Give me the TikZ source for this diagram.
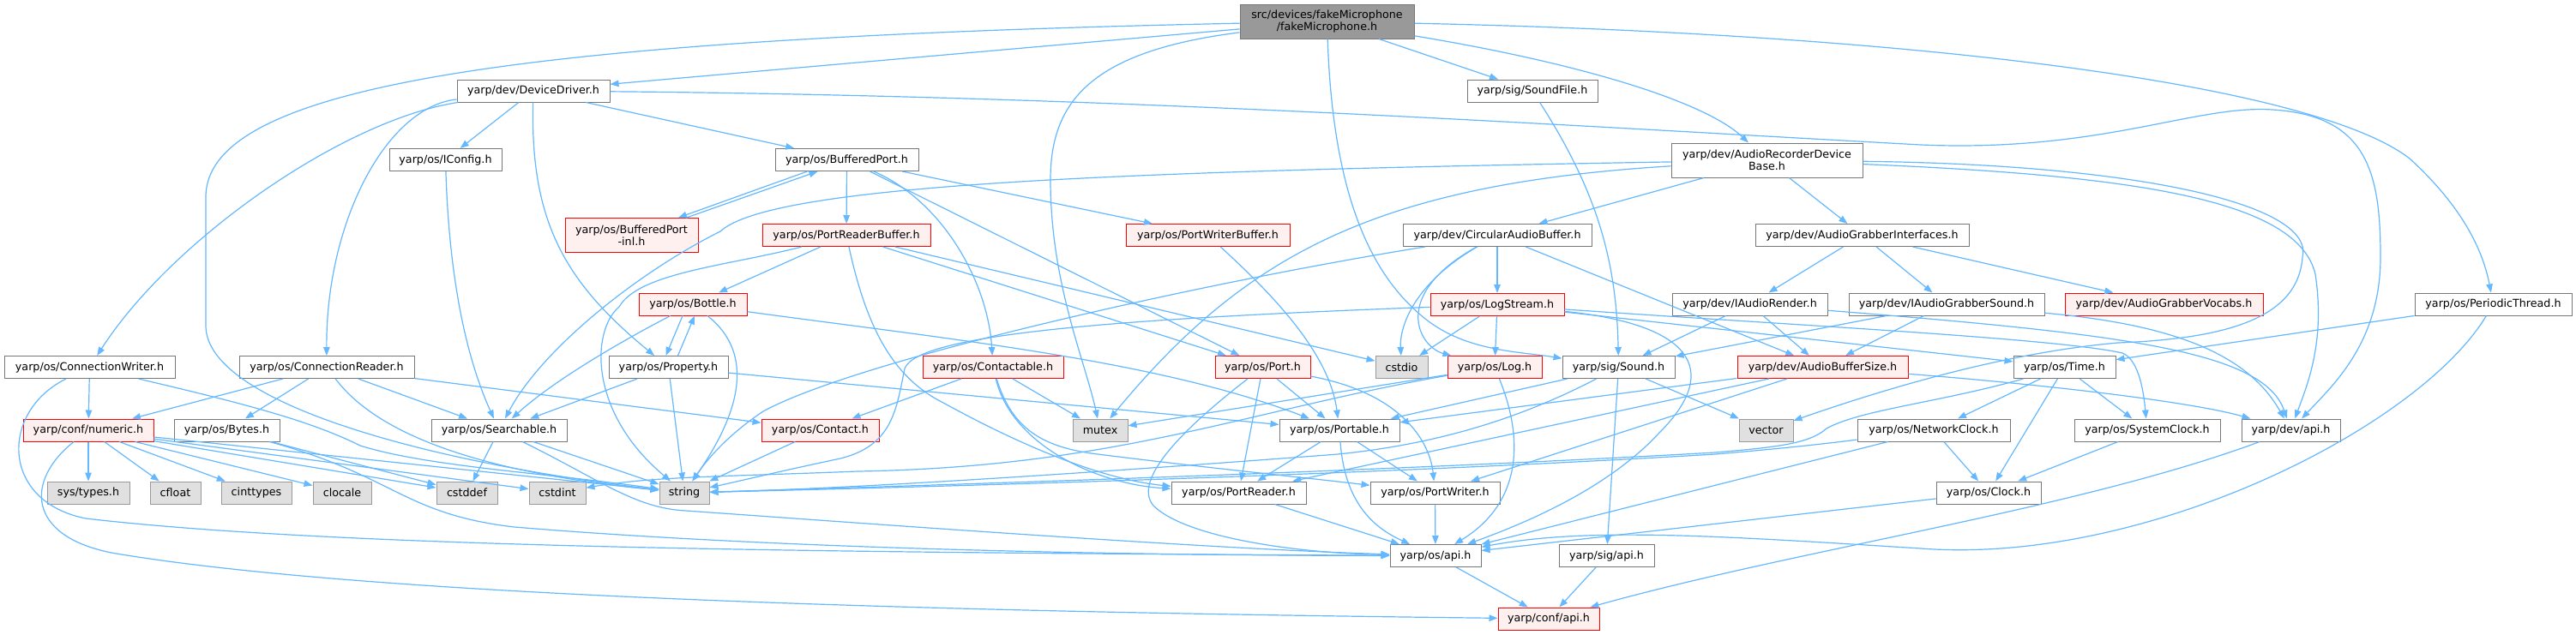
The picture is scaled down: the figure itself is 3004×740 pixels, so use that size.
\documentclass[tikz,border=0pt]{standalone}
\usepackage{fontspec}
\setmainfont{DejaVu Sans}
\usetikzlibrary{arrows.meta}
\definecolor{edgec}{HTML}{63B8FF}
\definecolor{nborder}{HTML}{777777}
\definecolor{gborder}{HTML}{999999}
\definecolor{gfill}{HTML}{E0E0E0}
\definecolor{rfill}{HTML}{FFF0F0}
\definecolor{rborder}{HTML}{FF0000}
\definecolor{rootfill}{HTML}{999999}
\newcommand{\mknode}[6]{\node[#1, minimum width=#5pt] (#2) at (#3,#4) {#6};}
\begin{document}
\begin{tikzpicture}[x=1pt,y=-1pt,
  box/.style={draw, line width=1pt, inner sep=0pt, minimum height=26pt, align=center, text=black,
    font=\fontsize{12.7pt}{14.5pt}\selectfont},
  two/.style={minimum height=40pt},
  nb/.style={box, draw=nborder, fill=white},
  nr/.style={box, draw=rborder, fill=rfill},
  ng/.style={box, draw=gborder, fill=gfill},
  nroot/.style={box, draw=nborder, fill=rootfill},
  dep/.style={draw=edgec, line width=1.2pt, -{Triangle[length=10pt,width=7.5pt]}}]
\fill[white] (0,0) rectangle (3004,740);
\useasboundingbox (0,0) rectangle (3004,740);

% ---------- nodes ----------
\mknode{nroot,two}{FM}{1547.5}{25}{203}{src/devices/fakeMicrophone\\/fakeMicrophone.h}
\mknode{nb}{DD}{622}{106}{178}{yarp/dev/DeviceDriver.h}
\mknode{nb}{SF}{1787}{106}{152}{yarp/sig/SoundFile.h}
\mknode{nb}{IConfig}{519.5}{186.5}{131}{yarp/os/IConfig.h}
\mknode{nb}{BP}{987.5}{186.5}{167}{yarp/os/BufferedPort.h}
\mknode{nb,two}{ARDB}{2060.5}{187}{223}{yarp/dev/AudioRecorderDevice\\Base.h}
\mknode{nr,two}{BPinl}{736.5}{274.5}{155}{yarp/os/BufferedPort\\-inl.h}
\mknode{nr}{PRB}{987}{274.5}{196}{yarp/os/PortReaderBuffer.h}
\mknode{nr}{PWB}{1408.5}{274.5}{191}{yarp/os/PortWriterBuffer.h}
\mknode{nb}{CAB}{1746}{274.5}{220}{yarp/dev/CircularAudioBuffer.h}
\mknode{nb}{AGI}{2171.5}{274.5}{249}{yarp/dev/AudioGrabberInterfaces.h}
\mknode{nr}{Bottle}{808}{355}{126}{yarp/os/Bottle.h}
\mknode{nr}{LogStream}{1746}{355.5}{156}{yarp/os/LogStream.h}
\mknode{nb}{IAR}{2040.5}{355}{181}{yarp/dev/IAudioRender.h}
\mknode{nb}{IAGS}{2270}{355}{228}{yarp/dev/IAudioGrabberSound.h}
\mknode{nr}{AGV}{2523.5}{355}{231}{yarp/dev/AudioGrabberVocabs.h}
\mknode{nb}{PT}{2907.5}{355}{183}{yarp/os/PeriodicThread.h}
\mknode{nb}{CW}{104.5}{428.5}{199}{yarp/os/ConnectionWriter.h}
\mknode{nb}{CR}{381}{428.5}{204}{yarp/os/ConnectionReader.h}
\mknode{nb}{Property}{779.5}{428.5}{139}{yarp/os/Property.h}
\mknode{nr}{Contactable}{1158}{428.5}{164}{yarp/os/Contactable.h}
\mknode{nr}{Port}{1472.5}{428.5}{111}{yarp/os/Port.h}
\mknode{ng}{cstdio}{1634.5}{428.5}{61}{cstdio}
\mknode{nr}{Log}{1743}{428.5}{110}{yarp/os/Log.h}
\mknode{nb}{Sound}{1887.5}{428.5}{131}{yarp/sig/Sound.h}
\mknode{nr}{ABS}{2125.5}{428.5}{199}{yarp/dev/AudioBufferSize.h}
\mknode{nb}{Time}{2407.5}{428.5}{119}{yarp/os/Time.h}
\mknode{nr}{numeric}{103}{502}{152}{yarp/conf/numeric.h}
\mknode{nb}{Bytes}{264.5}{502}{123}{yarp/os/Bytes.h}
\mknode{nb}{Searchable}{582}{502}{158}{yarp/os/Searchable.h}
\mknode{nr}{Contact}{956.5}{502}{137}{yarp/os/Contact.h}
\mknode{ng}{mutex}{1283}{502}{64}{mutex}
\mknode{nb}{Portable}{1562}{502}{140}{yarp/os/Portable.h}
\mknode{ng}{vector}{2059.5}{502}{63}{vector}
\mknode{nb}{NC}{2255}{502}{178}{yarp/os/NetworkClock.h}
\mknode{nb}{SC}{2504}{502}{170}{yarp/os/SystemClock.h}
\mknode{nb}{devapi}{2671.5}{502}{115}{yarp/dev/api.h}
\mknode{ng}{systypes}{103}{575}{96}{sys/types.h}
\mknode{ng}{cfloat}{204.5}{575}{59}{cfloat}
\mknode{ng}{cinttypes}{299}{575}{82}{cinttypes}
\mknode{ng}{clocale}{399}{575}{68}{clocale}
\mknode{ng}{cstddef}{544.5}{575}{71}{cstddef}
\mknode{ng}{cstdint}{650}{575}{66}{cstdint}
\mknode{ng}{string}{798}{575}{58}{string}
\mknode{nb}{PortReader}{1444.5}{575}{157}{yarp/os/PortReader.h}
\mknode{nb}{PortWriter}{1673.5}{575}{151}{yarp/os/PortWriter.h}
\mknode{nb}{Clock}{2319}{575}{122}{yarp/os/Clock.h}
\mknode{nb}{osapi}{1674}{648.5}{106}{yarp/os/api.h}
\mknode{nb}{sigapi}{1873.5}{648.5}{111}{yarp/sig/api.h}
\mknode{nr}{confapi}{1806}{722}{118}{yarp/conf/api.h}

% ---------- edges ----------
% fakeMicrophone.h
\draw[dep] (FM) -- (DD);
\draw[dep] (FM) -- (SF);
\draw[dep] (FM) .. controls (1850,75) and (1990,120) .. (ARDB);
\draw[dep] (FM) .. controls (2250,40) and (2700,100) .. (2810,185) .. controls (2870,240) and (2895,290) .. (PT);
\draw[dep] (FM) .. controls (1270,60) and (1225,120) .. (1225,210) .. controls (1225,330) and (1265,420) .. (mutex);
\draw[dep] (FM) .. controls (600,45) and (240,100) .. (240,230) -- (240,380) .. controls (240,470) and (500,540) .. (string);
\draw[dep] (FM) .. controls (1555,250) and (1610,330) .. (1662,372) .. controls (1710,410) and (1770,410) .. (Sound);
% DeviceDriver.h
\draw[dep] (DD) -- (IConfig);
\draw[dep] (DD) -- (BP);
\draw[dep] (DD) .. controls (1300,112) and (1800,145) .. (2240,169) .. controls (2450,178) and (2560,122) .. (2650,128) .. controls (2760,135) and (2776,200) .. (2776,300) .. controls (2776,400) and (2720,450) .. (devapi);
\draw[dep] (DD) .. controls (400,140) and (200,280) .. (CW);
\draw[dep] (DD) .. controls (450,125) and (380,260) .. (CR);
\draw[dep] (DD) .. controls (618,260) and (660,330) .. (Property);
% IConfig.h
\draw[dep] (IConfig) .. controls (524,330) and (545,420) .. (Searchable);
% BufferedPort.h
\draw[dep] ([xshift=-46pt]BP.south) -- ([xshift=54.5pt]BPinl.north);
\draw[dep] ([xshift=64pt]BPinl.north) -- ([xshift=-34pt]BP.south);
\draw[dep] (BP) -- (PRB);
\draw[dep] (BP) -- (PWB);
\draw[dep] (BP) .. controls (1100,235) and (1152,330) .. (Contactable);
\draw[dep] (BP) -- (Port);
% PortReaderBuffer.h
\draw[dep] (PRB) -- (Bottle);
\draw[dep] (PRB) .. controls (850,310) and (745,318) .. (722,358) .. controls (690,385) and (685,480) .. (string);
\draw[dep] (PRB) .. controls (1010,380) and (1040,440) .. (1100,470) .. controls (1200,525) and (1290,560) .. (PortReader);
\draw[dep] (PRB) -- (Port);
\draw[dep] (PRB) -- (cstdio);
% PortWriterBuffer.h
\draw[dep] (PWB) .. controls (1480,340) and (1550,410) .. (Portable);
% AudioRecorderDeviceBase.h
\draw[dep] (ARDB) -- (CAB);
\draw[dep] (ARDB) -- (AGI);
\draw[dep] (ARDB) .. controls (1300,200) and (900,215) .. (840,270) .. controls (740,320) and (630,410) .. (Searchable);
\draw[dep] (ARDB) .. controls (1600,215) and (1450,300) .. (mutex);
\draw[dep] (ARDB) .. controls (2500,192) and (2700,240) .. (2685,300) .. controls (2680,370) and (2600,395) .. (2470,400) .. controls (2330,412) and (2180,460) .. (vector);
\draw[dep] (ARDB) .. controls (2500,205) and (2680,235) .. (2700,320) .. controls (2712,400) and (2690,450) .. (devapi);
% CircularAudioBuffer.h
\draw[dep] (CAB) -- (LogStream);
\draw[dep] (CAB) .. controls (1400,330) and (1000,420) .. (890,480) .. controls (845,510) and (822,540) .. (string);
\draw[dep] (CAB) .. controls (1650,330) and (1632,380) .. (cstdio);
\draw[dep] (CAB) .. controls (1620,345) and (1655,405) .. (Log);
\draw[dep] (CAB) -- (ABS);
% LogStream.h
\draw[dep] (LogStream) -- (cstdio);
\draw[dep] (LogStream) -- (Log);
\draw[dep] (LogStream) .. controls (1300,372) and (1070,390) .. (1055,430) .. controls (1045,480) and (1040,520) .. (980,535) .. controls (900,552) and (860,562) .. (string);
\draw[dep] (LogStream) .. controls (1970,378) and (2010,430) .. (1935,505) .. controls (1875,570) and (1780,610) .. (osapi);
\draw[dep] (LogStream) -- (Time);
\draw[dep] (LogStream) .. controls (2100,380) and (2400,395) .. (2475,412) .. controls (2495,420) and (2500,460) .. (SC);
% Log.h
\draw[dep] (Log) -- (mutex);
\draw[dep] (Log) .. controls (1450,480) and (1300,545) .. (1000,550) .. controls (850,556) and (760,556) .. (cstdint);
\draw[dep] (Log) .. controls (1780,520) and (1770,590) .. (osapi);
% Sound.h
\draw[dep] (Sound) -- (Portable);
\draw[dep] (Sound) .. controls (1760,495) and (1660,520) .. (1560,530) .. controls (1300,550) and (1000,570) .. (string);
\draw[dep] (Sound) -- (sigapi);
\draw[dep] (Sound) -- (vector);
% AudioBufferSize.h
\draw[dep] (ABS) -- (Portable);
\draw[dep] (ABS) -- (PortReader);
\draw[dep] (ABS) -- (PortWriter);
\draw[dep] (ABS) .. controls (2400,450) and (2560,470) .. (devapi);
% IAudioRender.h
\draw[dep] (IAR) -- (Sound);
\draw[dep] (IAR) -- (ABS);
\draw[dep] (IAR) .. controls (2480,390) and (2640,410) .. (devapi);
% IAudioGrabberSound.h
\draw[dep] (IAGS) -- (Sound);
\draw[dep] (IAGS) -- (ABS);
\draw[dep] (IAGS) .. controls (2550,380) and (2625,420) .. (devapi);
% AudioGrabberInterfaces.h
\draw[dep] (AGI) -- (IAR);
\draw[dep] (AGI) -- (IAGS);
\draw[dep] (AGI) -- (AGV);
% SoundFile.h
\draw[dep] (SF) .. controls (1860,220) and (1885,300) .. (Sound);
% Bottle.h / Property.h
\draw[dep] ([xshift=-12pt]Bottle.south) -- ([xshift=-3pt]Property.north);
\draw[dep] ([xshift=11pt]Property.north) -- ([xshift=2pt]Bottle.south);
\draw[dep] (Bottle) .. controls (740,390) and (650,440) .. (Searchable);
\draw[dep] (Bottle) .. controls (890,420) and (850,500) .. (string);
\draw[dep] (Bottle) .. controls (1100,395) and (1350,420) .. (Portable);
\draw[dep] (Property) -- (Searchable);
\draw[dep] (Property) -- (string);
\draw[dep] (Property) -- (Portable);
% ConnectionWriter.h
\draw[dep] (CW) -- (numeric);
\draw[dep] (CW) .. controls (280,470) and (360,490) .. (420,520) .. controls (500,545) and (640,552) .. (string);
\draw[dep] (CW) .. controls (0,480) and (0,585) .. (100,605) .. controls (400,640) and (1000,645) .. (osapi);
% ConnectionReader.h
\draw[dep] (CR) -- (numeric);
\draw[dep] (CR) -- (Bytes);
\draw[dep] (CR) -- (Searchable);
\draw[dep] (CR) .. controls (450,520) and (600,555) .. (string);
\draw[dep] (CR) -- (Contact);
% numeric.h
\draw[dep] (numeric) -- (systypes);
\draw[dep] (numeric) -- (cfloat);
\draw[dep] (numeric) -- (cinttypes);
\draw[dep] (numeric) -- (clocale);
\draw[dep] (numeric) -- (cstddef);
\draw[dep] (numeric) -- (cstdint);
\draw[dep] (numeric) -- (string);
\draw[dep] (numeric) .. controls (30,560) and (30,625) .. (130,645) .. controls (450,700) and (1200,715) .. (confapi);
% Bytes.h
\draw[dep] (Bytes) -- (cstddef);
\draw[dep] (Bytes) .. controls (460,555) and (470,600) .. (600,615) .. controls (900,640) and (1300,648) .. (osapi);
% Searchable.h
\draw[dep] (Searchable) -- (cstddef);
\draw[dep] (Searchable) -- (string);
\draw[dep] (Searchable) .. controls (700,560) and (740,593) .. (800,596) .. controls (1000,610) and (1400,640) .. (osapi);
% Contact.h / Contactable.h
\draw[dep] (Contact) -- (string);
\draw[dep] (Contactable) -- (Contact);
\draw[dep] (Contactable) -- (mutex);
\draw[dep] (Contactable) .. controls (1180,520) and (1280,565) .. (PortReader);
\draw[dep] (Contactable) .. controls (1180,500) and (1215,522) .. (1280,530) .. controls (1400,545) and (1500,555) .. (PortWriter);
% Port.h
\draw[dep] (Port) -- (Portable);
\draw[dep] (Port) -- (PortReader);
\draw[dep] (Port) .. controls (1640,460) and (1668,520) .. (PortWriter);
\draw[dep] (Port) .. controls (1380,500) and (1320,560) .. (1345,590) .. controls (1380,625) and (1500,645) .. (osapi);
% Portable.h and below
\draw[dep] (Portable) -- (PortReader);
\draw[dep] (Portable) .. controls (1568,585) and (1600,615) .. (osapi);
\draw[dep] (Portable) -- (PortWriter);
\draw[dep] (PortReader) -- (osapi);
\draw[dep] (PortWriter) -- (osapi);
\draw[dep] (osapi) -- (confapi);
\draw[dep] (sigapi) -- (confapi);
% Time.h
\draw[dep] (Time) -- (NC);
\draw[dep] (Time) -- (Clock);
\draw[dep] (Time) -- (SC);
\draw[dep] (Time) .. controls (2260,470) and (2170,478) .. (2130,500) .. controls (2110,518) and (2070,522) .. (2000,528) .. controls (1700,545) and (1300,560) .. (string);
% NetworkClock.h, SystemClock.h, Clock.h
\draw[dep] (NC) .. controls (2110,520) and (2070,524) .. (2000,530) .. controls (1700,548) and (1300,563) .. (string);
\draw[dep] (NC) -- (Clock);
\draw[dep] (NC) -- (osapi);
\draw[dep] (SC) -- (Clock);
\draw[dep] (Clock) -- (osapi);
% dev/api.h
\draw[dep] (devapi) .. controls (2420,595) and (2100,640) .. (confapi);
% PeriodicThread.h
\draw[dep] (PT) -- (Time);
\draw[dep] (PT) .. controls (2820,500) and (2500,660) .. (2240,640) .. controls (2000,625) and (1850,615) .. (osapi);
\end{tikzpicture}
\end{document}
